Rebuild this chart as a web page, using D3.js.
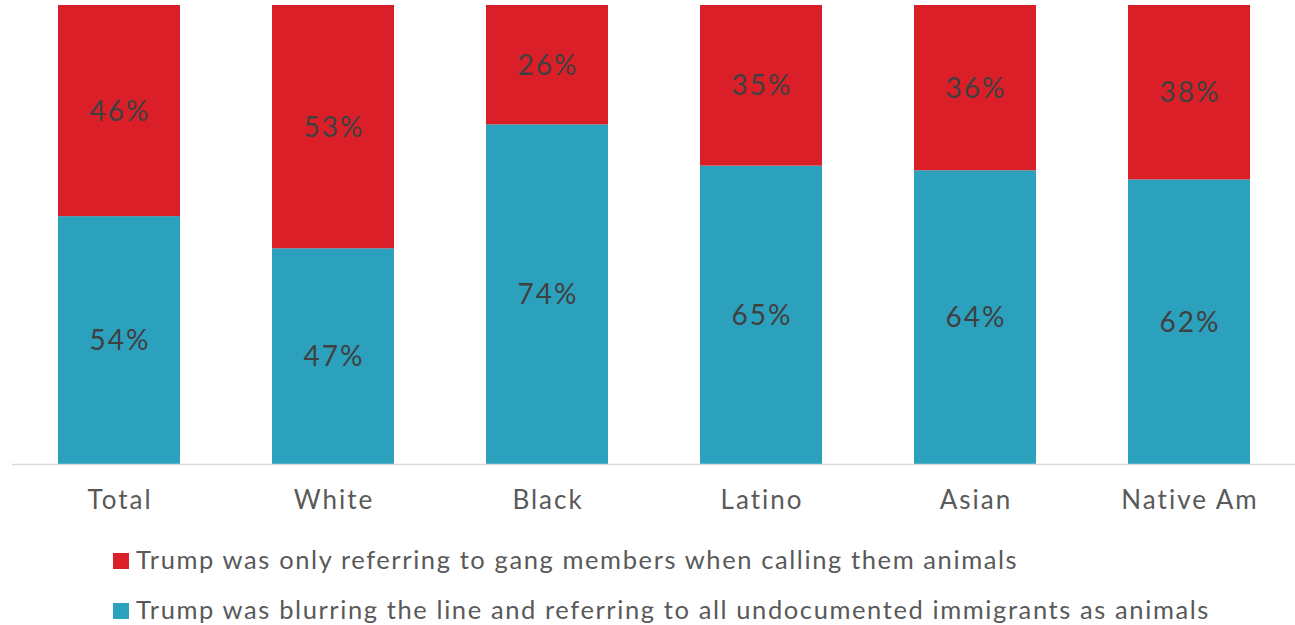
<!DOCTYPE html>
<html><head><meta charset="utf-8">
<script src="https://cdn.jsdelivr.net/npm/d3@7"></script>
<style>body{margin:0;background:#fff;}svg{display:block;font-family:"Lato","Noto Sans",sans-serif;}</style>
</head><body><svg id="c" width="1295" height="625"></svg>
<script>
const categories = ["Total","White","Black","Latino","Asian","Native Am"];
const blurring = [54,47,74,65,64,62];
const gangOnly = [46,53,26,35,36,38];
const seriesNames = ["Trump was only referring to gang members when calling them animals",
  "Trump was blurring the line and referring to all undocumented immigrants as animals"];
const colors = {gang:"#DA1F28", blur:"#2CA1BE"};

const svg = d3.select("#c");
const x = d3.scaleBand().domain(categories).range([12,1296]).paddingInner(92/214).paddingOuter(46/214);
const y = d3.scaleLinear().domain([0,100]).range([464,5]);

const data = categories.map((c,i)=>({cat:c, blur:blurring[i], gang:gangOnly[i]}));
const stack = d3.stack().keys(["blur","gang"])(data);

svg.append("g").selectAll("g").data(stack).join("g")
  .attr("fill", d=>colors[d.key])
  .selectAll("rect").data(d=>d).join("rect")
  .attr("x", d=>x(d.data.cat)).attr("width", x.bandwidth())
  .attr("y", d=>y(d[1])).attr("height", d=>y(d[0])-y(d[1]));

svg.append("g").selectAll("g").data(stack).join("g")
  .selectAll("text").data(d=>d.map(v=>({v, key:d.key}))).join("text")
  .attr("x", d=>x(d.v.data.cat)+x.bandwidth()/2+1)
  .attr("y", d=>(y(d.v[0])+y(d.v[1]))/2)
  .attr("dy","0.36em").attr("text-anchor","middle")
  .attr("font-size",28).attr("letter-spacing",2).attr("fill","#404040")
  .text(d=>d.v.data[d.key]+"%");

svg.append("line").attr("x1",12).attr("x2",1295).attr("y1",464.5).attr("y2",464.5)
  .attr("stroke","#d9d9d9").attr("stroke-width",1.5);

const xa = svg.append("g").attr("transform","translate(1,464)").call(d3.axisBottom(x).tickSize(0).tickPadding(0));
xa.select(".domain").remove();
xa.selectAll("text").attr("y",45).attr("dy",null).attr("font-size",26).attr("letter-spacing",2)
  .attr("fill","#595959").attr("font-family","Lato, 'Noto Sans', sans-serif");

const leg = svg.append("g");
const legItems = [{name:seriesNames[0], c:colors.gang, y:561},{name:seriesNames[1], c:colors.blur, y:611}];
leg.selectAll("rect").data(legItems).join("rect")
  .attr("x",113).attr("y",d=>d.y-8).attr("width",16).attr("height",16).attr("fill",d=>d.c);
leg.selectAll("text").data(legItems).join("text")
  .attr("x",136).attr("y",d=>d.y+8)
  .attr("font-size",25.5).attr("letter-spacing",1.6).attr("fill","#595959").text(d=>d.name);
</script></body></html>
